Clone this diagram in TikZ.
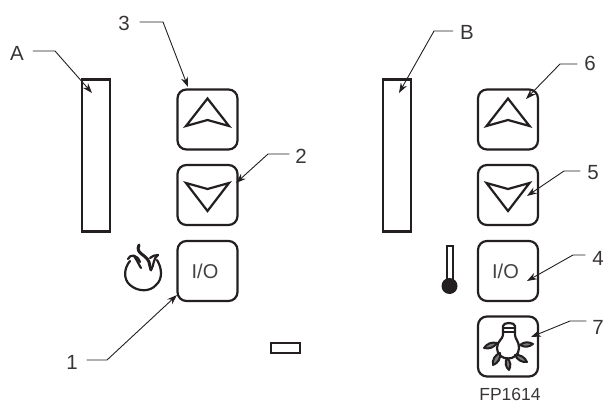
\documentclass[tikz,border=0pt]{standalone}
\usepackage{fontspec}
\setmainfont{Liberation Sans}
\usetikzlibrary{arrows.meta}
\definecolor{ink}{HTML}{231F20}
\tikzset{
  btn/.style={draw=ink,line width=2.2pt,rounded corners=9pt,minimum width=60pt,minimum height=60pt,inner sep=0pt,font=\fontsize{20}{20}\selectfont,text=ink!85!white},
  bar/.style={draw=ink,line width=2.2pt,minimum width=28.5pt,minimum height=152pt,inner sep=0pt},
  lbl/.style={font=\fontsize{20.5}{21}\selectfont,text=ink!90!white,inner sep=0pt,outer sep=0pt},
  lead/.style={draw=ink,line width=0.9pt,-{Stealth[length=10pt,width=7pt]}},
  tri/.style={draw=ink,line width=2.2pt,miter limit=10,line join=miter},
  sym/.style={draw=ink,line width=2.2pt,line cap=round,line join=round},
  leaf/.style={draw=ink,line width=2pt,line join=round,fill=ink!60!white}
}
\begin{document}
\begin{tikzpicture}[x=1pt,y=-1pt]
\useasboundingbox (0,0) rectangle (605,404);
% bars
\node[bar] (barA) at (96,155.5) {};
\node[bar] (barB) at (397,155.5) {};
\node[draw=ink,line width=2pt,minimum width=29pt,minimum height=9.5pt,inner sep=0pt] (slot) at (285,348) {};
% buttons
\node[btn] (upL) at (207.5,119.5) {};
\node[btn] (dnL) at (207.5,195) {};
\node[btn] (ioL) at (207.5,271) {\kern-5pt I/O};
\node[btn] (upR) at (508,119.5) {};
\node[btn] (dnR) at (508,195) {};
\node[btn] (ioR) at (508,271) {\kern-5pt I/O};
\node[btn] (lamp) at (508,346.5) {};
% triangles
\foreach \n in {upL,upR}{
  \draw[tri] ([shift={(0,-21)}]\n.center) -- ([shift={(21.5,6.5)}]\n.center) -- ([shift={(0,0.5)}]\n.center) -- ([shift={(-21.5,6.5)}]\n.center) -- cycle;
}
\foreach \n in {dnL,dnR}{
  \draw[tri] ([shift={(0,16)}]\n.center) -- ([shift={(21.5,-12)}]\n.center) -- ([shift={(0,-6)}]\n.center) -- ([shift={(-21.5,-12)}]\n.center) -- cycle;
}
% flame
\draw[sym] (130,261) .. controls (124,268) and (123,279) .. (130,285) .. controls (138,292) and (150,292) .. (156,285) .. controls (163,279) and (162,268) .. (157,260);
\draw[sym] (128,259) .. controls (130,254) and (137,254) .. (140,262);
\draw[sym] (134,256) .. controls (137,260) and (139,265) .. (141,268);
\draw[sym,line width=3pt] (139,245) .. controls (135,254) and (146,254) .. (149,262) .. controls (150,265) and (150,268) .. (151,270);
\draw[sym] (151,270) .. controls (154,266) and (153,258) .. (158,255);
\draw[sym] (150,258) .. controls (152,256) and (155,255) .. (158,255);
% thermometer
\draw[draw=ink,line width=2pt] (446.5,287) -- (446.5,245.5) -- (453,245.5) -- (453,287);
\fill[ink] (449.5,286) circle (8);
% lamp
\draw[sym] (503,335) -- (503,326) .. controls (503,322) and (515,322) .. (515,326) -- (515,335);
\draw[draw=ink,line width=1.8pt] (503,328) -- (515,328) (503,332) -- (515,332);
\draw[sym] (503,335) .. controls (503,339) and (497,341) .. (497,348) .. controls (497,362) and (519,362) .. (519,348) .. controls (519,341) and (515,339) .. (515,335);
\draw[leaf] (484,348) to[bend left=35] (497,343) to[bend left=35] cycle;
\draw[leaf] (520,345) to[bend left=35] (533,344) to[bend left=35] cycle;
\draw[leaf] (493,365) to[bend left=40] (500,353) to[bend left=40] cycle;
\draw[leaf] (509,370) to[bend left=40] (507,358) to[bend left=40] cycle;
\draw[leaf] (527,362) to[bend left=35] (515,355) to[bend left=35] cycle;
% labels
\node[lbl] (lA) at (17,53) {A};
\node[lbl] (l3) at (124,23) {3};
\node[lbl] (l2) at (301,156) {2};
\node[lbl] (l1) at (72,362) {1};
\node[lbl] (lB) at (467,32) {B};
\node[lbl] (l6) at (590,63) {6};
\node[lbl] (l5) at (593,173) {5};
\node[lbl] (l4) at (598,258) {4};
\node[lbl] (l7) at (598,327) {7};
\node[lbl,font=\fontsize{17.5}{18}\selectfont] (fp) at (510,394.5) {FP1614};
% connector anchors
\coordinate (tA) at (92,93);   \coordinate (eA) at (55,51);
\coordinate (t3) at (188,87);  \coordinate (e3) at (163,22);
\coordinate (t2) at (236,183); \coordinate (e2) at (268,154);
\coordinate (t1) at (177,295); \coordinate (e1) at (107,360);
\coordinate (tB) at (399,93);  \coordinate (eB) at (434,31);
\coordinate (t6) at (526,99);  \coordinate (e6) at (560,64);
\coordinate (t5) at (527,196); \coordinate (e5) at (564,171);
\coordinate (t4) at (527,281); \coordinate (e4) at (573,255);
\coordinate (t7) at (531,337); \coordinate (e7) at (570,321);
\draw[lead] ([xshift=9pt]lA.east |- eA) -- (eA) -- (tA);
\draw[lead] ([xshift=10pt]l3.east |- e3) -- (e3) -- (t3);
\draw[lead] ([xshift=-6pt]l2.west |- e2) -- (e2) -- (t2);
\draw[lead] ([xshift=9pt]l1.east |- e1) -- (e1) -- (t1);
\draw[lead] ([xshift=-7pt]lB.west |- eB) -- (eB) -- (tB);
\draw[lead] ([xshift=-7pt]l6.west |- e6) -- (e6) -- (t6);
\draw[lead] ([xshift=-7pt]l5.west |- e5) -- (e5) -- (t5);
\draw[lead] ([xshift=-7pt]l4.west |- e4) -- (e4) -- (t4);
\draw[lead] ([xshift=-6pt]l7.west |- e7) -- (e7) -- (t7);
\end{tikzpicture}
\end{document}
